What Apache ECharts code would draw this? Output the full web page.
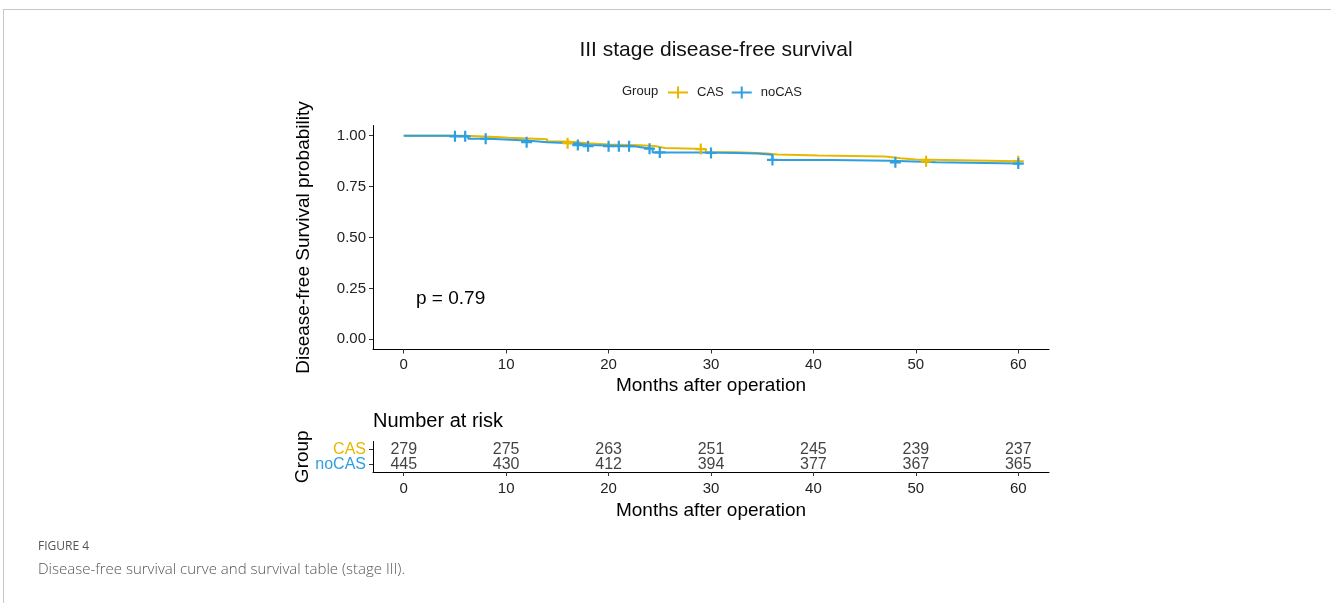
<!DOCTYPE html>
<html>
<head>
<meta charset="utf-8">
<script src="https://cdn.jsdelivr.net/npm/echarts@6/dist/echarts.min.js"></script>
<style>
html,body{margin:0;padding:0;background:#fff;}
#c{width:1331px;height:603px;}
</style>
</head>
<body>
<div id="c"></div>
<script>
// ---- Data ----
const groups = ['CAS', 'noCAS'];
const casTime = [0, 6, 9, 10.3, 14, 16, 18, 20, 23, 24.5, 25.5, 29.5, 32.5, 34.5, 35.5, 36.5, 40.5, 47, 48.5, 50, 60];
const casSurv = [1.000, 0.994, 0.990, 0.983, 0.972, 0.963, 0.957, 0.953, 0.949, 0.940, 0.934, 0.919, 0.915, 0.912, 0.908, 0.903, 0.898, 0.889, 0.883, 0.874, 0.874];
const casCensor = [16, 29, 51, 60];
const nocasTime = [0, 4.5, 6.3, 8.3, 12, 14, 17, 18, 22.5, 23.5, 24.3, 29.5, 32.5, 34.5, 36, 41.7, 47.5, 52, 60];
const nocasSurv = [1.000, 0.997, 0.985, 0.976, 0.968, 0.962, 0.954, 0.948, 0.941, 0.936, 0.918, 0.915, 0.912, 0.906, 0.881, 0.877, 0.869, 0.863, 0.863];
const nocasCensor = [5, 6, 8, 12, 17, 18, 20, 21, 22, 24, 25, 30, 36, 48, 60];
const riskTimes = [0, 10, 20, 30, 40, 50, 60];
const casRisk = [279, 275, 263, 251, 245, 239, 237];
const nocasRisk = [445, 430, 412, 394, 377, 367, 365];
const xTicks = [0, 10, 20, 30, 40, 50, 60];
const yTicks = [0, 0.25, 0.5, 0.75, 1];
const pValueText = 'p = 0.79';

// ---- helpers ----
const COL_CAS = '#E7B800', COL_NO = '#2E9FDF';
const FONT = 'Liberation Sans, Arial, sans-serif';
function stepAt(times, surv, t) {
  let v = surv[0];
  for (let i = 0; i < times.length; i++) { if (times[i] <= t) v = surv[i]; }
  return v;
}
const pairs = (a, b) => a.map((t, i) => [t, b[i]]);
const plusPath = 'path://M4,0h2v4h4v2h-4v4h-2v-4h-4v-2h4z';
const legendIcon = 'path://M0,5h20v2h-20z M9,0h2v12h-2z';

const chart = echarts.init(document.getElementById('c'), null, {renderer: 'canvas'});
const axisLineStyle = {color: '#000', width: 1};
const tickLabel = {color: '#222', fontSize: 15, fontFamily: FONT};

const option = {
  animation: false,
  backgroundColor: '#fff',
  legend: {
    left: 663, top: 81,
    itemWidth: 20, itemHeight: 12, itemGap: 8,
    textStyle: {fontSize: 13, fontFamily: FONT, color: '#222', padding: [0, 0, 0, 4]},
    data: [
      {name: 'CAS', icon: legendIcon, itemStyle: {color: COL_CAS}},
      {name: 'noCAS', icon: legendIcon, itemStyle: {color: COL_NO}}
    ]
  },
  grid: [
    {left: 373, top: 125.5, width: 676, height: 224, containLabel: false},
    {left: 373, top: 441.5, width: 676, height: 30.5, containLabel: false}
  ],
  xAxis: [
    {
      gridIndex: 0, type: 'value', min: -3, max: 63,
      axisLine: {show: true, onZero: false, lineStyle: axisLineStyle},
      axisTick: {show: true, length: 4, lineStyle: {color: '#333'}, customValues: xTicks},
      axisLabel: Object.assign({margin: 8, customValues: xTicks}, tickLabel),
      splitLine: {show: false},
      name: 'Months after operation', nameLocation: 'middle', nameGap: 27,
      nameTextStyle: {fontSize: 19, fontFamily: FONT, color: '#000'}
    },
    {
      gridIndex: 1, type: 'value', min: -3, max: 63,
      axisLine: {show: true, onZero: false, lineStyle: axisLineStyle},
      axisTick: {show: true, length: 4, lineStyle: {color: '#333'}, customValues: xTicks},
      axisLabel: Object.assign({margin: 9, customValues: xTicks}, tickLabel),
      splitLine: {show: false},
      name: 'Months after operation', nameLocation: 'middle', nameGap: 29,
      nameTextStyle: {fontSize: 19, fontFamily: FONT, color: '#000'}
    }
  ],
  yAxis: [
    {
      gridIndex: 0, type: 'value', min: -0.05, max: 1.05,
      axisLine: {show: true, onZero: false, lineStyle: axisLineStyle},
      axisTick: {show: true, length: 4, lineStyle: {color: '#333'}, customValues: yTicks},
      axisLabel: Object.assign({margin: 7, customValues: yTicks, formatter: v => v.toFixed(2)}, tickLabel),
      splitLine: {show: false},
      name: 'Disease-free Survival probability', nameLocation: 'middle', nameGap: 60, nameRotate: 90,
      nameMoveOverlap: false,
      nameTextStyle: {fontSize: 19, fontFamily: FONT, color: '#000'}
    },
    {
      gridIndex: 1, type: 'category', data: ['noCAS', 'CAS'],
      axisLine: {show: true, onZero: false, lineStyle: axisLineStyle},
      axisTick: {show: true, length: 4, alignWithLabel: true, interval: 0, lineStyle: {color: '#333'}},
      axisLabel: {
        margin: 7, fontSize: 16, fontFamily: FONT, interval: 0, hideOverlap: false,
        formatter: v => '{' + (v === 'CAS' ? 'a' : 'b') + '|' + v + '}',
        rich: {a: {color: COL_CAS, fontSize: 16, fontFamily: FONT}, b: {color: COL_NO, fontSize: 16, fontFamily: FONT}}
      },
      splitLine: {show: false},
      name: 'Group', nameLocation: 'middle', nameGap: 61, nameRotate: 90,
      nameMoveOverlap: false,
      nameTextStyle: {fontSize: 19, fontFamily: FONT, color: '#000'}
    }
  ],
  series: [
    {
      name: 'CAS', type: 'line', xAxisIndex: 0, yAxisIndex: 0, step: 'end',
      data: pairs(casTime, casSurv), showSymbol: false, symbol: 'none',
      lineStyle: {color: COL_CAS, width: 2}, itemStyle: {color: COL_CAS}, z: 2
    },
    {
      name: 'noCAS', type: 'line', xAxisIndex: 0, yAxisIndex: 0, step: 'end',
      data: pairs(nocasTime, nocasSurv), showSymbol: false, symbol: 'none',
      lineStyle: {color: COL_NO, width: 2}, itemStyle: {color: COL_NO}, z: 3
    },
    {
      name: 'CAS', type: 'scatter', xAxisIndex: 0, yAxisIndex: 0,
      symbol: plusPath, symbolSize: 11,
      data: casCensor.map(t => [t, stepAt(casTime, casSurv, t)]),
      itemStyle: {color: COL_CAS, opacity: 1}, z: 4
    },
    {
      name: 'noCAS', type: 'scatter', xAxisIndex: 0, yAxisIndex: 0,
      symbol: plusPath, symbolSize: 11,
      data: nocasCensor.map(t => [t, stepAt(nocasTime, nocasSurv, t)]),
      itemStyle: {color: COL_NO, opacity: 1}, z: 5
    },
    {
      type: 'scatter', xAxisIndex: 1, yAxisIndex: 1, symbolSize: 1,
      itemStyle: {color: 'rgba(0,0,0,0)'},
      data: riskTimes.map((t, i) => [t, 'CAS', casRisk[i]]).concat(riskTimes.map((t, i) => [t, 'noCAS', nocasRisk[i]])),
      label: {show: true, position: 'inside', formatter: p => String(p.value[2]), color: '#111', fontSize: 16, fontFamily: FONT},
      silent: true
    }
  ],
  graphic: [
    {type: 'line', shape: {x1: 3, y1: 9.5, x2: 1331, y2: 9.5}, style: {stroke: '#c8c8c8', lineWidth: 1}, silent: true},
    {type: 'line', shape: {x1: 3.5, y1: 9, x2: 3.5, y2: 603}, style: {stroke: '#c8c8c8', lineWidth: 1}, silent: true},
    {type: 'text', x: 716, y: 50, style: {text: 'III stage disease-free survival', font: '21px ' + FONT, fill: '#111', textAlign: 'center', textVerticalAlign: 'middle'}},
    {type: 'text', x: 622, y: 91, style: {text: 'Group', font: '13px ' + FONT, fill: '#222', textAlign: 'left', textVerticalAlign: 'middle'}},
    {type: 'text', x: 416, y: 299, style: {text: pValueText, font: '19px ' + FONT, fill: '#000', textAlign: 'left', textVerticalAlign: 'middle'}},
    {type: 'text', x: 373, y: 421, style: {text: 'Number at risk', font: '20px ' + FONT, fill: '#000', textAlign: 'left', textVerticalAlign: 'middle'}},
    {type: 'text', x: 38, y: 547, style: {text: 'FIGURE 4', font: '12px "Open Sans", sans-serif', fill: '#555', textAlign: 'left', textVerticalAlign: 'middle'}},
    {type: 'text', x: 38, y: 570, style: {text: 'Disease-free survival curve and survival table (stage III).', font: '300 15px "Open Sans", sans-serif', fill: '#555', textAlign: 'left', textVerticalAlign: 'middle'}}
  ]
};
chart.setOption(option);
</script>
</body>
</html>
